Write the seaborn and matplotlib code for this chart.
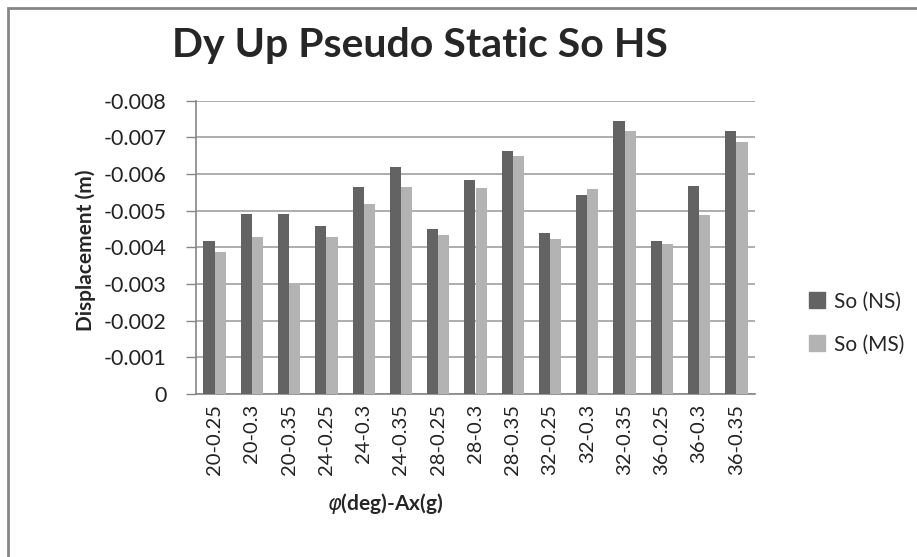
import numpy as np
import pandas as pd
import matplotlib
matplotlib.use('Agg')
import matplotlib.pyplot as plt
import matplotlib.patches as mpatches
import seaborn as sns

categories = ['20-0.25', '20-0.3', '20-0.35', '24-0.25', '24-0.3', '24-0.35',
              '28-0.25', '28-0.3', '28-0.35', '32-0.25', '32-0.3', '32-0.35',
              '36-0.25', '36-0.3', '36-0.35']
so_ns = [-0.00417, -0.00490, -0.00490, -0.00458, -0.00564, -0.00618, -0.00450,
         -0.00585, -0.00662, -0.00438, -0.00544, -0.00745, -0.00417, -0.00568, -0.00718]
so_ms = [-0.00387, -0.00428, -0.00304, -0.00428, -0.00518, -0.00564, -0.00434,
         -0.00561, -0.00649, -0.00424, -0.00559, -0.00718, -0.00408, -0.00488, -0.00688]
series = ['So (NS)', 'So (MS)']
colors = ['#636363', '#b3b3b3']

df = pd.DataFrame({
    'case': categories * 2,
    'disp': so_ns + so_ms,
    'series': [series[0]] * len(categories) + [series[1]] * len(categories),
})

sns.set_style('white')
plt.rcParams['font.family'] = ['Lato', 'DejaVu Sans']

fig = plt.figure(figsize=(9.17, 5.57), dpi=100)
ax = fig.add_axes([196 / 917, 1 - 394 / 557, (755 - 196) / 917, (394 - 100.7) / 557])

sns.barplot(data=df, x='case', y='disp', hue='series', palette=colors,
            width=0.6, gap=0, linewidth=0, errorbar=None, ax=ax, legend=False, zorder=3)

# negative values grow upward
ax.set_ylim(0, -0.008)
yt = np.arange(0, -0.0081, -0.001)
ax.set_yticks(yt)
ax.set_yticklabels(['0'] + ['%.3f' % v for v in yt[1:]], fontsize=15.5, color='#222222')
ax.set_xlim(-0.5, len(categories) - 0.5)
ax.set_xticks(range(len(categories)))
ax.set_xticklabels(categories, rotation=90, fontsize=14.5, color='#222222')
ax.set_xticks(np.arange(0.5, len(categories), 1.0), minor=True)
ax.tick_params(axis='x', which='major', length=0, pad=7)
ax.tick_params(axis='x', which='minor', direction='in', length=7, color='#868686', width=1)
ax.tick_params(axis='y', direction='out', length=7, color='#868686', width=1, pad=14, left=True)
ax.set_xlabel('')
ax.set_ylabel('')

ax.grid(axis='y', color='#a0a0a0', linewidth=1.2, zorder=0)
ax.set_axisbelow(True)
for s in ['top', 'right']:
    ax.spines[s].set_visible(False)
for s in ['left', 'bottom']:
    ax.spines[s].set_color('#868686')
    ax.spines[s].set_linewidth(1.2)

fig.text(420 / 917, 1 - 45 / 557, 'Dy Up Pseudo Static So HS', ha='center', va='center',
         fontsize=29.5, fontweight='bold')
fig.text(86 / 917, 1 - 250 / 557, 'Displacement (m)', rotation=90, ha='center', va='center',
         fontsize=15, fontweight='bold')
fig.text(385 / 917, 1 - 503 / 557, r'$\varphi$(deg)-Ax(g)', ha='center', va='center',
         fontsize=15, fontweight='bold')

handles = [mpatches.Patch(color=c, label=l) for c, l in zip(colors, series)]
fig.legend(handles=handles, loc='center left', bbox_to_anchor=(790 / 917, 1 - 323 / 557),
           frameon=False, fontsize=15, labelspacing=1.1, handlelength=0.8, handleheight=0.8,
           handletextpad=0.4)

# chart frame, cut off at right and bottom
fig.patches.append(mpatches.Rectangle((8 / 917, -0.1), 1.2, 1.1 - 8 / 557, transform=fig.transFigure,
                                      fill=False, edgecolor='#868686', linewidth=2))

fig.savefig('out.png', dpi=100)
